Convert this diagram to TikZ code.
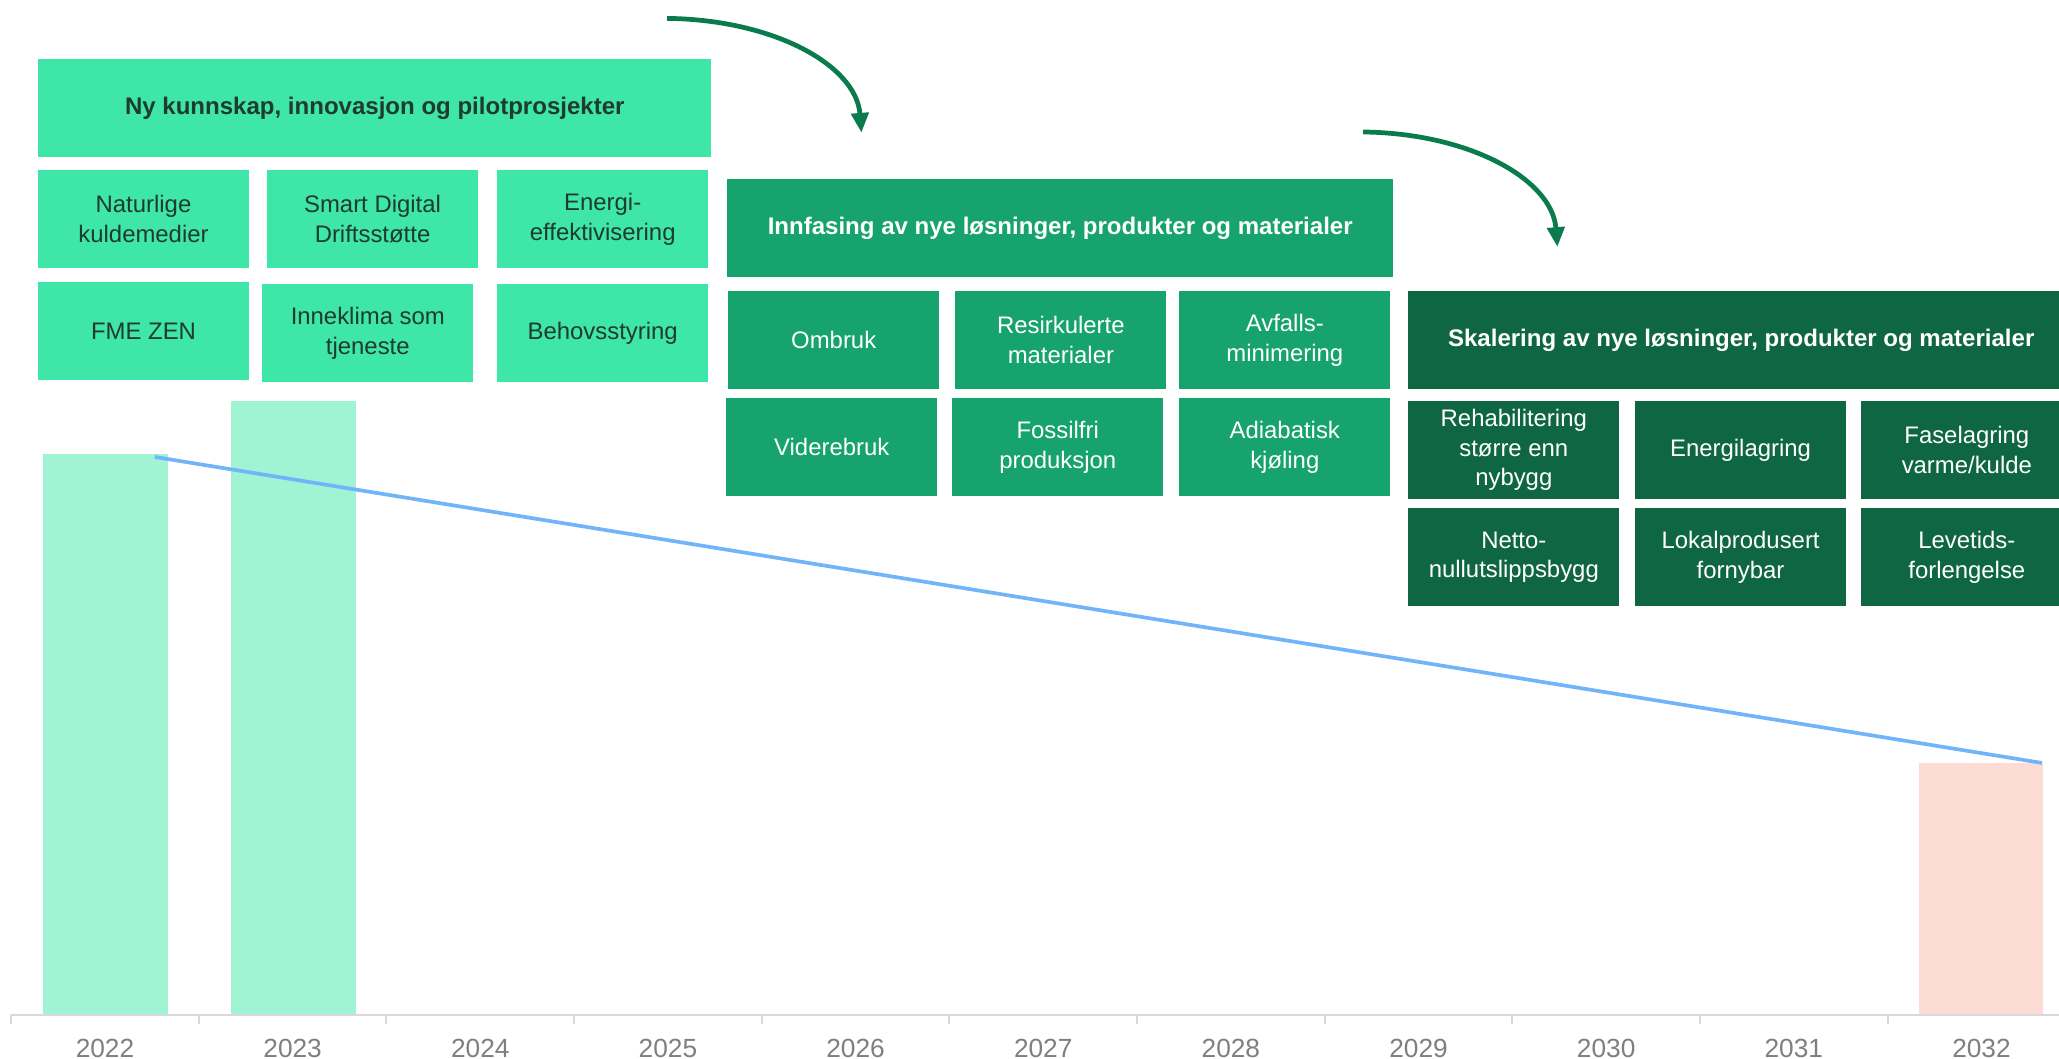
\documentclass[tikz,border=0pt]{standalone}
\usepackage{fontspec}
\setmainfont{Liberation Sans}
\usetikzlibrary{arrows.meta}
\definecolor{lg}{HTML}{3EE6A7}
\definecolor{mg}{HTML}{16A36E}
\definecolor{dg}{HTML}{0E6643}
\definecolor{dtext}{HTML}{1F3A30}
\definecolor{barc}{HTML}{A0F4D3}
\definecolor{pinkc}{HTML}{FDDCD5}
\definecolor{bluec}{HTML}{72B4FA}
\definecolor{arrc}{HTML}{0A7B4C}
\definecolor{axisc}{HTML}{D9D9D9}
\definecolor{yearc}{HTML}{7F7F7F}
\begin{document}
\begin{tikzpicture}[x=1pt,y=-1pt,
  bx/.style={minimum width=160.6pt, minimum height=74.4pt, inner sep=0pt, align=center,
    font=\fontsize{18.2}{22.5}\selectfont, anchor=north west},
  lbox/.style={bx, fill=lg, text=dtext},
  mbox/.style={bx, fill=mg, text=white},
  dbox/.style={bx, fill=dg, text=white},
  ttl/.style={font=\bfseries\fontsize{18.3}{22.5}\selectfont},
  curvarrow/.style={draw=arrc, line width=3.6pt, -{Triangle[length=15pt,width=13pt]}},
  yearlab/.style={anchor=base, text=yearc, font=\fontsize{20}{24}\selectfont, inner sep=0pt}
]
\clip (0,0) rectangle (1568,806.4);
\fill[white] (0,0) rectangle (1568,806.4);

% bars
\fill[barc] (32.7,346) rectangle (128,773);
\fill[barc] (176,305) rectangle (271,773);
\fill[pinkc] (1461,581) rectangle (1556,773);

% axis
\draw[axisc, line width=2pt] (8.5,773) -- (1568,773);
\foreach \k in {0,...,10}{
  \draw[axisc, line width=1.5pt] ({8.5+142.9*\k},773) -- ++(0,7);
  \pgfmathtruncatemacro{\yr}{2022+\k}
  \node[yearlab] (y\yr) at ({8.5+142.9*(\k+0.5)},805) {\yr};
}

% trend line
\coordinate (ls) at (118,348);
\coordinate (le) at (1555,581);
\draw[bluec, line width=2.8pt] (ls) -- (le);

% phase 1
\node[lbox, ttl, minimum width=512.8pt, minimum height=74.3pt] (t1) at (28.8,45) {Ny kunnskap, innovasjon og pilotprosjekter};
\node[lbox] (n1) at (28.8,129.5) {Naturlige\\kuldemedier};
\node[lbox] (n2) at (203.2,129.5) {Smart Digital\\Driftsstøtte};
\node[lbox] (n3) at (378.5,129.5) {Energi-\\effektivisering};
\node[lbox] (n4) at (28.8,214.8) {FME ZEN};
\node[lbox] (n5) at (199.6,216.3) {Inneklima som\\tjeneste};
\node[lbox] (n6) at (378.5,216.3) {Behovsstyring};

% phase 2
\node[mbox, ttl, minimum width=507.2pt] (t2) at (553.6,136.3) {Innfasing av nye løsninger, produkter og materialer};
\node[mbox] (m1) at (554.4,221.6) {Ombruk};
\node[mbox] (m2) at (727.4,221.6) {Resirkulerte\\materialer};
\node[mbox] (m3) at (897.9,221.6) {Avfalls-\\minimering};
\node[mbox] (m4) at (552.9,303.1) {Viderebruk};
\node[mbox] (m5) at (725,303.1) {Fossilfri\\produksjon};
\node[mbox] (m6) at (897.9,303.1) {Adiabatisk\\kjøling};

% phase 3
\node[dbox, ttl, minimum width=507pt] (t3) at (1072.3,221.6) {Skalering av nye løsninger, produkter og materialer};
\node[dbox] (d1) at (1072.3,305.4) {Rehabilitering\\større enn\\nybygg};
\node[dbox] (d2) at (1245,305.4) {Energilagring};
\node[dbox] (d3) at (1417.3,305.4) {Faselagring\\varme/kulde};
\node[dbox] (d4) at (1072.3,386.9) {Netto-\\nullutslippsbygg};
\node[dbox] (d5) at (1245,386.9) {Lokalprodusert\\fornybar};
\node[dbox] (d6) at (1417.3,386.9) {Levetids-\\forlengelse};

% arrows
\coordinate (a1s) at (508,14);
\coordinate (a1e) at (656,101);
\coordinate (a2s) at (1038,100.5);
\coordinate (a2e) at (1186,188);
\draw[curvarrow] (a1s) .. controls (590,15) and (652,50) .. (a1e);
\draw[curvarrow] (a2s) .. controls (1120,101.5) and (1182,137) .. (a2e);
\end{tikzpicture}
\end{document}
